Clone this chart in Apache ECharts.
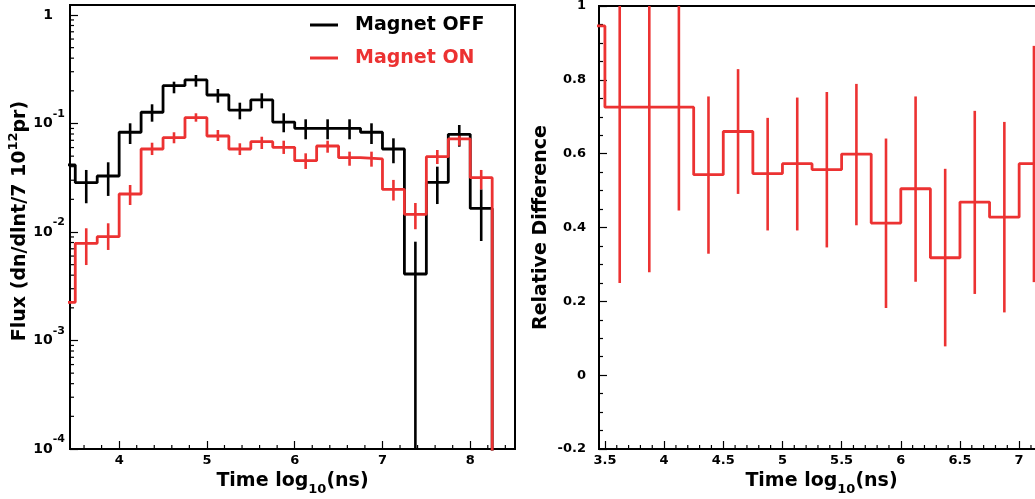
<!DOCTYPE html>
<html>
<head>
<meta charset="utf-8">
<script src="https://cdn.jsdelivr.net/npm/echarts/dist/echarts.min.js"></script>
<style>
html,body{margin:0;padding:0;background:#fff;}
#chart{width:1035px;height:499px;}
</style>
</head>
<body>
<div id="chart"></div>
<script>
// ---------- data ----------
const binWidth = 0.25;
const fluxBinCenters = [3.375, 3.625, 3.875, 4.125, 4.375, 4.625, 4.875, 5.125, 5.375, 5.625, 5.875,
  6.125, 6.375, 6.625, 6.875, 7.125, 7.375, 7.625, 7.875, 8.125, 8.375];
const fluxOff = [0.0415, 0.0285, 0.0328, 0.0830, 0.127, 0.223, 0.252, 0.183, 0.133, 0.165, 0.103,
  0.0903, 0.0903, 0.0903, 0.0830, 0.0582, 0.0041, 0.0287, 0.0795, 0.0165, 0];
const fluxOffLow = [null, 0.0184, 0.0215, 0.0647, 0.1039, 0.1898, 0.2184, 0.1555, 0.1093, 0.138, 0.083,
  0.0715, 0.0715, 0.0715, 0.0647, 0.043, 0, 0.0181, 0.0611, 0.00826, null];
const fluxOffHigh = [null, 0.0373, 0.0439, 0.1004, 0.1503, 0.2428, 0.2799, 0.208, 0.1555, 0.1898, 0.1242,
  0.1093, 0.1093, 0.1093, 0.1004, 0.073, 0.00814, 0.040, 0.0969, 0.0247, null];
const fluxOn = [0.00225, 0.00787, 0.00905, 0.0224, 0.0582, 0.0740, 0.1131, 0.0767, 0.0582, 0.0680, 0.0603,
  0.0454, 0.0620, 0.0484, 0.0471, 0.0247, 0.01456, 0.0494, 0.0720, 0.0317, 0];
const fluxOnLow = [null, 0.00496, 0.00683, 0.01773, 0.0512, 0.0657, 0.1039, 0.069, 0.0512, 0.0582, 0.0524,
  0.0381, 0.0538, 0.0408, 0.040, 0.0195, 0.0106, 0.0423, 0.0624, 0.0247, null];
const fluxOnHigh = [null, 0.01082, 0.01203, 0.0271, 0.0665, 0.083, 0.1242, 0.0871, 0.0657, 0.0755, 0.0694,
  0.0531, 0.0694, 0.055, 0.055, 0.0302, 0.0185, 0.057, 0.0812, 0.0373, null];

const relBinCenters = [3.375, 3.625, 3.875, 4.125, 4.375, 4.625, 4.875, 5.125, 5.375, 5.625, 5.875,
  6.125, 6.375, 6.625, 6.875, 7.125];
const relDiff = [0.946, 0.726, 0.726, 0.726, 0.543, 0.660, 0.546, 0.573, 0.557, 0.599, 0.412,
  0.505, 0.318, 0.469, 0.428, 0.573];
const relLow = [null, 0.250, 0.279, 0.446, 0.329, 0.491, 0.392, 0.392, 0.346, 0.406, 0.182,
  0.253, 0.078, 0.220, 0.170, 0.252];
const relHigh = [null, 1.20, 1.17, 1.01, 0.755, 0.829, 0.697, 0.752, 0.767, 0.789, 0.641,
  0.755, 0.559, 0.716, 0.686, 0.892];

// tick marks
const leftXMinorTicks = [3.6, 3.8, 4.2, 4.4, 4.6, 4.8, 5.2, 5.4, 5.6, 5.8, 6.2, 6.4, 6.6, 6.8,
  7.2, 7.4, 7.6, 7.8, 8.2, 8.4];
const leftYMinorTicks = [2e-4, 3e-4, 4e-4, 5e-4, 6e-4, 7e-4, 8e-4, 9e-4,
  2e-3, 3e-3, 4e-3, 5e-3, 6e-3, 7e-3, 8e-3, 9e-3,
  2e-2, 3e-2, 4e-2, 5e-2, 6e-2, 7e-2, 8e-2, 9e-2,
  0.2, 0.3, 0.4, 0.5, 0.6, 0.7, 0.8, 0.9];
const rightXMinorTicks = [3.6, 3.7, 3.8, 3.9, 4.1, 4.2, 4.3, 4.4, 4.6, 4.7, 4.8, 4.9,
  5.1, 5.2, 5.3, 5.4, 5.6, 5.7, 5.8, 5.9, 6.1, 6.2, 6.3, 6.4, 6.6, 6.7, 6.8, 6.9, 7.1, 7.2];

// ---------- styling ----------
const RED = '#ec3232';
const FONT = 'DejaVu Sans';
const LOG_FLOOR = 1e-6;
const LW = 2.8;

function stepPoints(centers, values, isLog) {
  const pts = [];
  const v = x => (isLog && !(x > 0)) ? LOG_FLOOR : x;
  centers.forEach((c, i) => pts.push([c - binWidth / 2, v(values[i])]));
  const last = centers.length - 1;
  pts.push([centers[last] + binWidth / 2, v(values[last])]);
  return pts;
}
function errData(centers, lo, hi) {
  const out = [];
  centers.forEach((c, i) => { if (lo[i] !== null && hi[i] !== null) out.push([c, lo[i], hi[i]]); });
  return out;
}
function makeErrRender(color, isLog) {
  return function (params, api) {
    const cs = params.coordSys;
    const x = api.value(0), lo = api.value(1), hi = api.value(2);
    const top = cs.y, bot = cs.y + cs.height;
    const ph = api.coord([x, hi]);
    const xp = ph[0];
    if (xp < cs.x || xp > cs.x + cs.width) return null;
    let yHi = ph[1];
    let yLo = (isLog && !(lo > 0)) ? bot : api.coord([x, lo])[1];
    yHi = Math.max(top, Math.min(bot, yHi));
    yLo = Math.max(top, Math.min(bot, yLo));
    return { type: 'line', shape: { x1: xp, y1: yHi, x2: xp, y2: yLo },
      style: { stroke: color, lineWidth: 2.6 } };
  };
}
function xMinorRender(params, api) {
  const cs = params.coordSys;
  const x = api.coord([api.value(0), api.value(1)])[0];
  const yb = cs.y + cs.height;
  return { type: 'line', shape: { x1: x, y1: yb, x2: x, y2: yb - 4 }, style: { stroke: '#000', lineWidth: 1.2 } };
}
function yMinorRender(params, api) {
  const cs = params.coordSys;
  const y = api.coord([api.value(0), api.value(1)])[1];
  return { type: 'line', shape: { x1: cs.x, y1: y, x2: cs.x + 4, y2: y }, style: { stroke: '#000', lineWidth: 1.2 } };
}

const axisLineStyle = { show: true, onZero: false, lineStyle: { color: '#000', width: 2 } };
const tickStyle = { show: true, inside: true, length: 8, lineStyle: { color: '#000', width: 1.2 } };
const labelBase = { color: '#000', fontFamily: FONT, fontWeight: 'bold', fontSize: 13 };
const titleRich = {
  a: { fontFamily: FONT, fontWeight: 'bold', fontSize: 19, lineHeight: 30, color: '#000' },
  s: { fontFamily: FONT, fontWeight: 'bold', fontSize: 13, lineHeight: 12, verticalAlign: 'bottom', color: '#000' }
};

const chart = echarts.init(document.getElementById('chart'), null, { renderer: 'canvas' });
const option = {
  animation: false,
  backgroundColor: '#fff',
  textStyle: { fontFamily: FONT, fontWeight: 'bold' },
  grid: [
    { left: 70, top: 5, width: 445, height: 444, show: true, borderColor: '#000', borderWidth: 2, outerBoundsMode: 'none' },
    { left: 599, top: 6, width: 445, height: 443, show: true, borderColor: '#000', borderWidth: 2, outerBoundsMode: 'none' }
  ],
  legend: {
    orient: 'vertical', left: 305, top: 10, itemWidth: 28, itemHeight: 3, itemGap: 13, icon: 'rect',
    selectedMode: false,
    textStyle: { fontFamily: FONT, fontWeight: 'bold', fontSize: 19, lineHeight: 20, padding: [0, 0, 0, 12] },
    data: [
      { name: 'Magnet OFF', textStyle: { color: '#000' } },
      { name: 'Magnet ON', textStyle: { color: RED } }
    ]
  },
  xAxis: [
    {
      type: 'value', gridIndex: 0, min: 3.44, max: 8.51, splitNumber: 5,
      axisLine: axisLineStyle, axisTick: tickStyle, splitLine: { show: false },
      axisLabel: Object.assign({ margin: 5, showMinLabel: false, showMaxLabel: false }, labelBase),
      name: '{a|Time log}{s|10}{a|(ns)}', nameLocation: 'middle', nameGap: 14,
      nameTextStyle: { rich: titleRich }
    },
    {
      type: 'value', gridIndex: 1, min: 3.45, max: 7.21, splitNumber: 7,
      axisLine: axisLineStyle, axisTick: tickStyle, splitLine: { show: false },
      axisLabel: Object.assign({ margin: 5, showMinLabel: false, showMaxLabel: false }, labelBase),
      name: '{a|Time log}{s|10}{a|(ns)}', nameLocation: 'middle', nameGap: 14,
      nameTextStyle: { rich: titleRich }
    }
  ],
  yAxis: [
    {
      type: 'log', logBase: 10, gridIndex: 0, min: 1e-4, max: 1.236,
      axisLine: axisLineStyle, axisTick: tickStyle, splitLine: { show: false },
      axisLabel: Object.assign({
        margin: 5, showMaxLabel: false,
        formatter: function (v) {
          const l = Math.log10(v), e = Math.round(l);
          if (Math.abs(l - e) > 1e-6) return '';
          return e === 0 ? '{o|1}' : '{b|10}{s|' + e + '}';
        },
        rich: {
          b: { fontFamily: FONT, fontWeight: 'bold', fontSize: 14, lineHeight: 30, color: '#000' },
          s: { fontFamily: FONT, fontWeight: 'bold', fontSize: 11, lineHeight: 10, verticalAlign: 'top', color: '#000' },
          o: { fontFamily: FONT, fontWeight: 'bold', fontSize: 14, lineHeight: 16, padding: [0, 12, 0, 0], color: '#000' }
        }
      }, labelBase),
      name: '{a|Flux (dn/dlnt/7 10}{s|12}{a|pr)}', nameLocation: 'middle', nameGap: 32, nameRotate: 90,
      nameTextStyle: {
        padding: [0, 0, 0, 12],
        rich: {
          a: { fontFamily: FONT, fontWeight: 'bold', fontSize: 19, lineHeight: 26, color: '#000' },
          s: { fontFamily: FONT, fontWeight: 'bold', fontSize: 13, lineHeight: 13, verticalAlign: 'top', color: '#000' }
        }
      }
    },
    {
      type: 'value', gridIndex: 1, min: -0.2, max: 1, interval: 0.2,
      axisLine: axisLineStyle, axisTick: tickStyle, splitLine: { show: false },
      minorTick: { show: true, splitNumber: 4, length: 4, lineStyle: { color: '#000', width: 1.2 } },
      minorSplitLine: { show: false },
      axisLabel: Object.assign({ margin: 13 }, labelBase),
      name: 'Relative Difference', nameLocation: 'middle', nameGap: 31, nameRotate: 90,
      nameTextStyle: { fontFamily: FONT, fontWeight: 'bold', fontSize: 19, lineHeight: 26, color: '#000' }
    }
  ],
  series: [
    {
      name: 'Magnet OFF', type: 'line', xAxisIndex: 0, yAxisIndex: 0, step: 'end', symbol: 'none',
      data: stepPoints(fluxBinCenters, fluxOff, true), clip: true,
      itemStyle: { color: '#000' }, lineStyle: { color: '#000', width: LW }
    },
    {
      name: 'offErr', type: 'custom', xAxisIndex: 0, yAxisIndex: 0, silent: true,
      data: errData(fluxBinCenters, fluxOffLow, fluxOffHigh), renderItem: makeErrRender('#000', true)
    },
    {
      name: 'Magnet ON', type: 'line', xAxisIndex: 0, yAxisIndex: 0, step: 'end', symbol: 'none',
      data: stepPoints(fluxBinCenters, fluxOn, true), clip: true,
      itemStyle: { color: RED }, lineStyle: { color: RED, width: LW }
    },
    {
      name: 'onErr', type: 'custom', xAxisIndex: 0, yAxisIndex: 0, silent: true,
      data: errData(fluxBinCenters, fluxOnLow, fluxOnHigh), renderItem: makeErrRender(RED, true)
    },
    {
      name: 'Relative Difference', type: 'line', xAxisIndex: 1, yAxisIndex: 1, step: 'end', symbol: 'none',
      data: stepPoints(relBinCenters, relDiff, false), clip: true,
      itemStyle: { color: RED }, lineStyle: { color: RED, width: LW }
    },
    {
      name: 'relErr', type: 'custom', xAxisIndex: 1, yAxisIndex: 1, silent: true,
      data: errData(relBinCenters, relLow, relHigh), renderItem: makeErrRender(RED, false)
    },
    {
      name: 'leftXMinor', type: 'custom', xAxisIndex: 0, yAxisIndex: 0, silent: true,
      data: leftXMinorTicks.map(v => [v, 0.01]), renderItem: xMinorRender
    },
    {
      name: 'leftYMinor', type: 'custom', xAxisIndex: 0, yAxisIndex: 0, silent: true,
      data: leftYMinorTicks.map(v => [5, v]), renderItem: yMinorRender
    },
    {
      name: 'rightXMinor', type: 'custom', xAxisIndex: 1, yAxisIndex: 1, silent: true,
      data: rightXMinorTicks.map(v => [v, 0.5]), renderItem: xMinorRender
    }
  ]
};
chart.setOption(option);
</script>
</body>
</html>
